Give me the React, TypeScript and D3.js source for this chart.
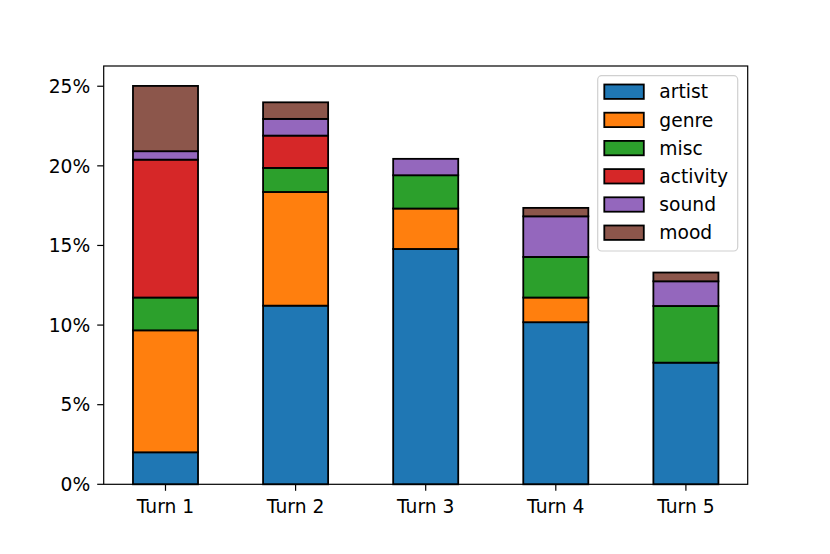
import React from 'react';
import * as d3 from 'd3';

const turns = ['Turn 1', 'Turn 2', 'Turn 3', 'Turn 4', 'Turn 5'];
const categories = ['artist', 'genre', 'misc', 'activity', 'sound', 'mood'];
const colors = ['#1f77b4', '#ff7f0e', '#2ca02c', '#d62728', '#9467bd', '#8c564b'];

// percentage share per turn
const artist = [2.01, 11.22, 14.78, 10.18, 7.64];
const genre = [7.66, 7.14, 2.54, 1.55, 0];
const misc = [2.06, 1.51, 2.09, 2.55, 3.56];
const activity = [8.66, 2.03, 0, 0, 0];
const sound = [0.53, 1.05, 1.03, 2.55, 1.55];
const mood = [4.1, 1.04, 0, 0.53, 0.55];

const yTicks = [0, 5, 10, 15, 20, 25];

const width = 830;
const height = 554;
const left = 103.7;
const right = 747.7;
const top = 66;
const bottom = 484.3;
const font = "'DejaVu Sans', sans-serif";
const fs = 18.7;

const App = () => {
  const rows = turns.map((t, i) => ({
    turn: t,
    artist: artist[i],
    genre: genre[i],
    misc: misc[i],
    activity: activity[i],
    sound: sound[i],
    mood: mood[i],
  }));
  const stack = d3.stack<any>().keys(categories);
  const series = stack(rows);

  const x = d3.scaleLinear().domain([-0.475, turns.length - 1 + 0.475]).range([left, right]);
  const ymax = d3.max(series[series.length - 1], d => d[1]) as number;
  const y = d3.scaleLinear().domain([0, ymax * 1.05]).range([bottom, top]);
  const barW = x(0.5) - x(0);

  const legendX = 597.7;
  const legendY = 75.7;
  const rowH = 28.2;

  return (
    <svg width={width} height={height} style={{ position: 'absolute', left: 0, top: 0, background: '#fff' }}
      fontFamily={font}>
      <rect x={0} y={0} width={width} height={height} fill="#fff" />
      {series.map((s, si) => (
        <g key={s.key} fill={colors[si]}>
          {s.map((d, i) => (
            d[1] - d[0] > 0 ? (
              <rect key={i} x={x(i) - barW / 2} y={y(d[1])} width={barW} height={y(d[0]) - y(d[1])}
                stroke="#000" strokeWidth={1.8} />
            ) : null
          ))}
        </g>
      ))}
      {/* axes frame */}
      <rect x={left} y={top} width={right - left} height={bottom - top} fill="none" stroke="#000" strokeWidth={1.2} />
      {yTicks.map(t => (
        <g key={t}>
          <line x1={left - 6.5} x2={left} y1={y(t)} y2={y(t)} stroke="#000" strokeWidth={1.2} />
          <text x={left - 13.5} y={y(t)} dy="0.36em" textAnchor="end" fontSize={fs} fill="#000">{t}%</text>
        </g>
      ))}
      {turns.map((t, i) => (
        <g key={t}>
          <line x1={x(i)} x2={x(i)} y1={bottom} y2={bottom + 6.5} stroke="#000" strokeWidth={1.2} />
          <text x={x(i)} y={513.3} textAnchor="middle" fontSize={fs} fill="#000">{t}</text>
        </g>
      ))}
      {/* legend */}
      <rect x={legendX} y={legendY} width={140} height={175.3} rx={4} ry={4} fill="#fff" fillOpacity={0.8}
        stroke="#d0d0d0" strokeWidth={1.2} />
      {categories.map((c, i) => {
        const cy = 91.7 + i * rowH;
        return (
          <g key={c}>
            <rect x={604.3} y={cy - 7.2} width={39.5} height={14.4} fill={colors[i]} stroke="#000" strokeWidth={1.8} />
            <text x={659.3} y={cy} dy="0.36em" fontSize={fs} fill="#000">{c}</text>
          </g>
        );
      })}
    </svg>
  );
};

export default App;
